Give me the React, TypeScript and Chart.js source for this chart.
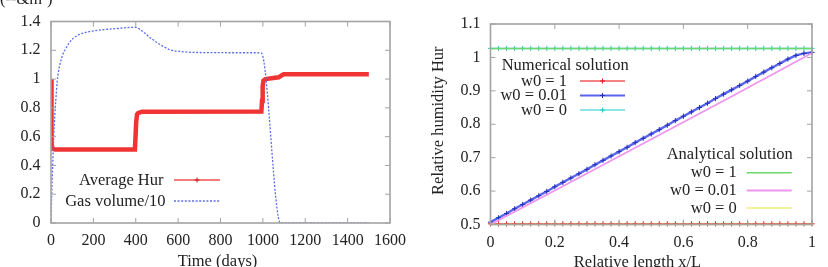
import React, { useEffect, useRef } from "react";
import { Chart, registerables } from "chart.js";

Chart.register(...registerables);

const FONT = '"Liberation Serif", "Times New Roman", serif';
const INK = "#222222";
const FRAME = "#a3a3a3";

Chart.defaults.font.family = FONT;

// ---------- Left panel: evolution over time ----------
const timeMin = 0;
const timeMax = 1600;
const timeStep = 200;
const leftYMin = 0;
const leftYMax = 1.4;
const leftYStep = 0.2;

const hurDays = [0, 1, 2, 4, 8, 20, 396, 399, 402, 406, 412, 430, 993, 996, 999, 1003, 1012, 1040, 1075, 1088, 1098, 1500];
const hurValues = [1.0, 0.82, 0.63, 0.55, 0.515, 0.51, 0.51, 0.6, 0.7, 0.755, 0.765, 0.773, 0.775, 0.85, 0.95, 0.99, 1.0, 1.005, 1.012, 1.025, 1.033, 1.033];

const gasDays = [0, 3, 8, 13, 18, 24, 29, 35, 42, 55, 69, 85, 103, 134, 180, 227, 300, 397, 420, 443, 475, 505, 535, 566, 610, 659, 750, 850, 968, 993, 1083, 1500];
const gasValues = [0, 0.18, 0.4, 0.6, 0.75, 0.88, 0.98, 1.05, 1.1, 1.17, 1.21, 1.25, 1.28, 1.31, 1.33, 1.34, 1.35, 1.36, 1.345, 1.318, 1.28, 1.249, 1.222, 1.202, 1.192, 1.186, 1.184, 1.183, 1.183, 1.18, 0, 0];

// ---------- Right panel: humidity profile along the sample ----------
const lengthMin = 0;
const lengthMax = 1;
const lengthStep = 0.2;
const humMin = 0.5;
const humMax = 1.1;
const humStep = 0.1;

const gridX = [
  0, 0.025, 0.05, 0.075, 0.1, 0.125, 0.15, 0.175, 0.2, 0.225,
  0.25, 0.275, 0.3, 0.325, 0.35, 0.375, 0.4, 0.425, 0.45, 0.475,
  0.5, 0.525, 0.55, 0.575, 0.6, 0.625, 0.65, 0.675, 0.7, 0.725,
  0.75, 0.775, 0.8, 0.825, 0.85, 0.875, 0.9, 0.925, 0.95, 0.975, 1,
];
const numericalW1 = [
  0.502, 0.502, 0.502, 0.502, 0.502, 0.502, 0.502, 0.502, 0.502, 0.502,
  0.502, 0.502, 0.502, 0.502, 0.502, 0.502, 0.502, 0.502, 0.502, 0.502,
  0.502, 0.502, 0.502, 0.502, 0.502, 0.502, 0.502, 0.502, 0.502, 0.502,
  0.502, 0.502, 0.502, 0.502, 0.502, 0.502, 0.502, 0.502, 0.502, 0.502, 0.502,
];
const numericalW001 = [
  0.507, 0.52, 0.533, 0.547, 0.56, 0.573, 0.586, 0.599, 0.613, 0.626,
  0.639, 0.652, 0.665, 0.679, 0.692, 0.705, 0.718, 0.731, 0.745, 0.758,
  0.771, 0.784, 0.797, 0.811, 0.824, 0.837, 0.85, 0.863, 0.877, 0.89,
  0.903, 0.916, 0.929, 0.943, 0.956, 0.969, 0.982, 0.995, 1.006, 1.012, 1.015,
];
const numericalW0 = [
  1.027, 1.027, 1.027, 1.027, 1.027, 1.027, 1.027, 1.027, 1.027, 1.027,
  1.027, 1.027, 1.027, 1.027, 1.027, 1.027, 1.027, 1.027, 1.027, 1.027,
  1.027, 1.027, 1.027, 1.027, 1.027, 1.027, 1.027, 1.027, 1.027, 1.027,
  1.027, 1.027, 1.027, 1.027, 1.027, 1.027, 1.027, 1.027, 1.027, 1.027, 1.027,
];
const analyticX = [0, 0.25, 0.5, 0.75, 1];
const analyticW1 = [1.027, 1.027, 1.027, 1.027, 1.027];
const analyticW001 = [0.5, 0.627, 0.755, 0.883, 1.013];
const analyticW0 = [0.5, 0.5, 0.5, 0.5, 0.5];

const pts = (xs: number[], ys: number[]) => xs.map((x, i) => ({ x, y: ys[i] }));

type TextItem = {
  text: string;
  x: number;
  y: number;
  align?: CanvasTextAlign;
  baseline?: CanvasTextBaseline;
  rotate?: boolean;
};
type SampleItem = {
  x1: number;
  x2: number;
  y: number;
  color: string;
  width: number;
  dash?: number[];
  marker?: string;
};

function framePlugin(texts: TextItem[], samples: SampleItem[]) {
  return {
    id: "frameAndKey",
    afterDraw(chart: any) {
      const { ctx, chartArea: a, scales } = chart;
      ctx.save();
      // inward tick marks on all four sides
      ctx.strokeStyle = FRAME;
      ctx.lineWidth = 1;
      const tick = 5;
      ctx.beginPath();
      for (const t of scales.x.ticks) {
        const px = scales.x.getPixelForValue(t.value);
        ctx.moveTo(px, a.bottom);
        ctx.lineTo(px, a.bottom - tick);
        ctx.moveTo(px, a.top);
        ctx.lineTo(px, a.top + tick);
      }
      for (const t of scales.y.ticks) {
        const py = scales.y.getPixelForValue(t.value);
        ctx.moveTo(a.left, py);
        ctx.lineTo(a.left + tick, py);
        ctx.moveTo(a.right, py);
        ctx.lineTo(a.right - tick, py);
      }
      ctx.stroke();
      // border
      ctx.lineWidth = 1.6;
      ctx.strokeRect(a.left, a.top, a.right - a.left, a.bottom - a.top);

      // key samples
      for (const s of samples) {
        ctx.strokeStyle = s.color;
        ctx.lineWidth = s.width;
        ctx.setLineDash(s.dash || []);
        ctx.beginPath();
        ctx.moveTo(s.x1, s.y);
        ctx.lineTo(s.x2, s.y);
        ctx.stroke();
        ctx.setLineDash([]);
        if (s.marker) {
          const cx = (s.x1 + s.x2) / 2;
          ctx.strokeStyle = s.marker;
          ctx.lineWidth = 1;
          ctx.beginPath();
          ctx.moveTo(cx - 2.5, s.y);
          ctx.lineTo(cx + 2.5, s.y);
          ctx.moveTo(cx, s.y - 2.5);
          ctx.lineTo(cx, s.y + 2.5);
          ctx.stroke();
        }
      }

      // labels and titles
      ctx.fillStyle = INK;
      ctx.font = `16.5px ${FONT}`;
      for (const t of texts) {
        ctx.save();
        ctx.textAlign = t.align || "left";
        ctx.textBaseline = t.baseline || "middle";
        ctx.translate(t.x, t.y);
        if (t.rotate) ctx.rotate(-Math.PI / 2);
        ctx.fillText(t.text, 0, 0);
        ctx.restore();
      }
      ctx.restore();
    },
  };
}

const plainNumber = (v: number | string) => String(Math.round(Number(v) * 1000) / 1000);

function axis(min: number, max: number, step: number, pad: number, size: number, horizontal: boolean) {
  return {
    type: "linear",
    min,
    max,
    ticks: {
      stepSize: step,
      padding: pad,
      color: INK,
      font: { family: FONT, size: 16, style: "normal", weight: "normal", lineHeight: 1.2 },
      maxRotation: 0,
      autoSkip: false,
      callback: plainNumber,
    },
    grid: { display: false, drawTicks: false },
    border: { display: false },
    afterFit: (s: any) => {
      if (horizontal) s.height = size;
      else s.width = size;
    },
  };
}

function leftConfig(): any {
  return {
    type: "line",
    data: {
      datasets: [
        {
          label: "Average Hur",
          data: pts(hurDays, hurValues),
          borderColor: "#f03434",
          borderWidth: 4.5,
          pointRadius: 0,
          tension: 0,
          order: 2,
        },
        {
          label: "Gas volume/10",
          data: pts(gasDays, gasValues),
          borderColor: "#5c6ee6",
          borderWidth: 1.3,
          borderDash: [2, 1.6],
          pointRadius: 0,
          cubicInterpolationMode: "monotone",
          order: 1,
        },
      ],
    },
    options: {
      animation: false,
      responsive: false,
      devicePixelRatio: 1,
      layout: { padding: { top: 21.5, right: 18, left: 0, bottom: 0 } },
      plugins: { legend: { display: false }, tooltip: { enabled: false } },
      scales: {
        x: axis(timeMin, timeMax, timeStep, 8, 44, true),
        y: axis(leftYMin, leftYMax, leftYStep, 10.5, 51, false),
      },
    },
    plugins: [
      framePlugin(
        [
          { text: "(--&m\u00b3)", x: 0, y: 4, baseline: "alphabetic" },
          { text: "Time (days)", x: 217.5, y: 266, align: "center", baseline: "alphabetic" },
          { text: "Average Hur", x: 163.5, y: 180.7, align: "right" },
          { text: "Gas volume/10", x: 165.5, y: 201.7, align: "right" },
        ],
        [
          { x1: 174, x2: 220, y: 180, color: "#f05050", width: 1.5, marker: "#c01818" },
          { x1: 174, x2: 220, y: 201, color: "#5c6ee6", width: 1.3, dash: [2, 1.6] },
        ]
      ),
    ],
  };
}

function rightConfig(): any {
  const marked = (data: any, color: string, mark: string, width: number, order: number) => ({
    data,
    borderColor: color,
    borderWidth: width,
    pointStyle: "cross",
    pointRadius: 2.6,
    pointBorderWidth: 1,
    pointBorderColor: mark,
    pointBackgroundColor: mark,
    tension: 0,
    clip: 6,
    order,
  });
  const plain = (data: any, color: string, width: number, order: number) => ({
    data,
    borderColor: color,
    borderWidth: width,
    pointRadius: 0,
    tension: 0,
    clip: 6,
    order,
  });
  return {
    type: "line",
    data: {
      datasets: [
        { label: "Numerical w0 = 1", ...marked(pts(gridX, numericalW1), "#f05a5a", "#d02020", 1.5, 6) },
        { label: "Numerical w0 = 0.01", ...marked(pts(gridX, numericalW001), "#5a64ec", "#2430b8", 2.4, 5) },
        { label: "Numerical w0 = 0", ...marked(pts(gridX, numericalW0), "#66dede", "#38c4c4", 1.5, 4) },
        { label: "Analytical w0 = 1", ...plain(pts(analyticX, analyticW1), "#6ad86a", 1.5, 3) },
        { label: "Analytical w0 = 0.01", ...plain(pts(analyticX, analyticW001), "#ee96ee", 1.8, 2) },
        { label: "Analytical w0 = 0", ...plain(pts(analyticX, analyticW0), "#eeee78", 1.5, 1) },
      ],
    },
    options: {
      animation: false,
      responsive: false,
      devicePixelRatio: 1,
      layout: { padding: { top: 24, right: 16, left: 0, bottom: 0 } },
      plugins: { legend: { display: false }, tooltip: { enabled: false } },
      scales: {
        x: axis(lengthMin, lengthMax, lengthStep, 8.5, 42.5, true),
        y: axis(humMin, humMax, humStep, 10, 76.5, false),
      },
    },
    plugins: [
      framePlugin(
        [
          { text: "Relative humidity Hur", x: 24.5, y: 120.7, align: "center", rotate: true },
          { text: "Relative length x/L", x: 223.5, y: 267, align: "center", baseline: "alphabetic" },
          { text: "Numerical solution", x: 87.7, y: 65.5 },
          { text: "w0 = 1", x: 153, y: 81.5, align: "right" },
          { text: "w0 = 0.01", x: 153, y: 96, align: "right" },
          { text: "w0 = 0", x: 153, y: 110.5, align: "right" },
          { text: "Analytical solution", x: 252.7, y: 155 },
          { text: "w0 = 1", x: 322.7, y: 173, align: "right" },
          { text: "w0 = 0.01", x: 322.7, y: 191, align: "right" },
          { text: "w0 = 0", x: 322.7, y: 208.3, align: "right" },
        ],
        [
          { x1: 166, x2: 211, y: 81, color: "#f05a5a", width: 1.5, marker: "#d02020" },
          { x1: 166, x2: 211, y: 95.5, color: "#5a64ec", width: 2, marker: "#2430b8" },
          { x1: 166, x2: 211, y: 110, color: "#66dede", width: 1.5, marker: "#38c4c4" },
          { x1: 332.7, x2: 377.7, y: 172.7, color: "#6ad86a", width: 1.5 },
          { x1: 332.7, x2: 377.7, y: 190.5, color: "#ee96ee", width: 1.8 },
          { x1: 332.7, x2: 377.7, y: 208, color: "#eeee78", width: 1.5 },
        ]
      ),
    ],
  };
}

function Panel({ build, left }: { build: () => any; left: number }) {
  const ref = useRef<HTMLCanvasElement>(null);
  useEffect(() => {
    if (!ref.current) return;
    const chart = new Chart(ref.current, build());
    return () => chart.destroy();
  }, [build]);
  return (
    <canvas
      ref={ref}
      width={414}
      height={267}
      style={{ position: "absolute", left, top: 0, width: 414, height: 267 }}
    />
  );
}

export default function App() {
  return (
    <div
      style={{
        position: "absolute",
        left: 0,
        top: 0,
        width: 828,
        height: 267,
        background: "#ffffff",
        overflow: "hidden",
      }}
    >
      <Panel build={leftConfig} left={0} />
      <Panel build={rightConfig} left={414} />
    </div>
  );
}
